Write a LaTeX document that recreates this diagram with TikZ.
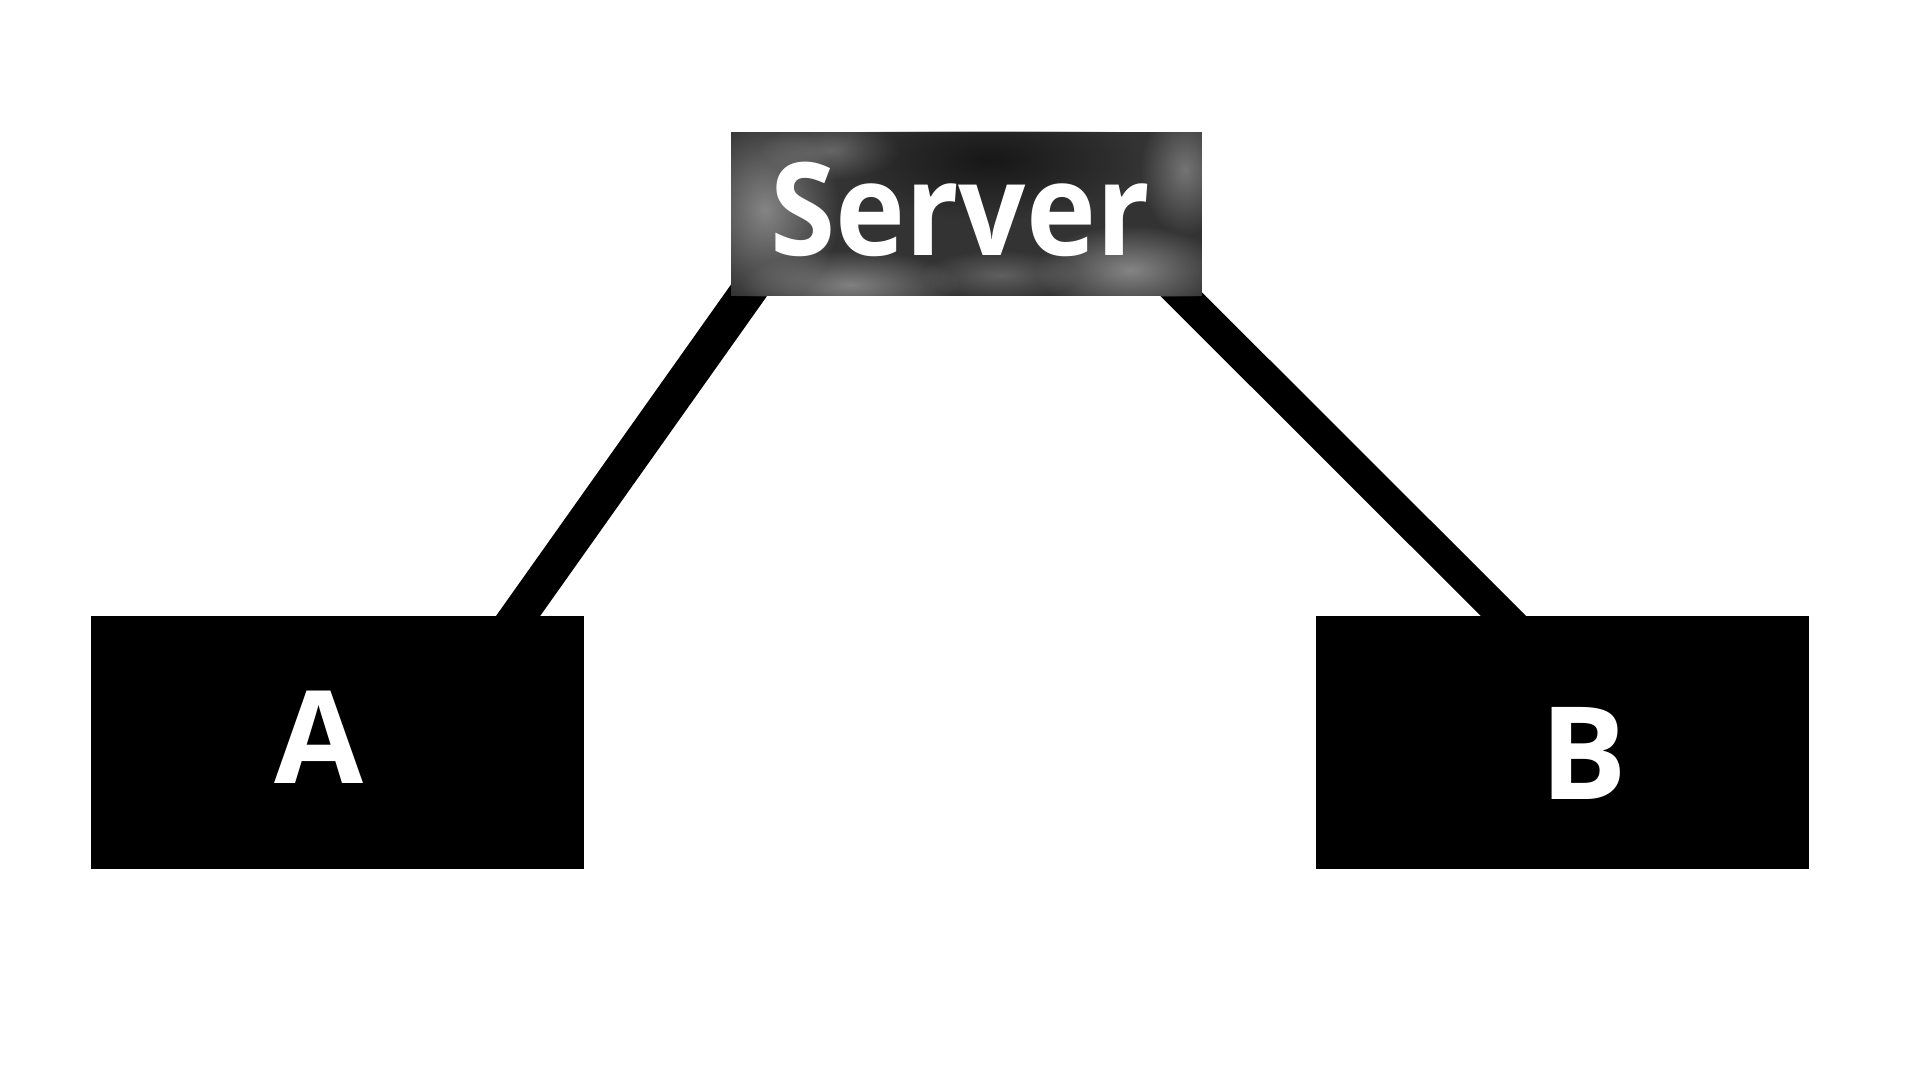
\documentclass[tikz,border=0pt]{standalone}
\usepackage{fontspec}
\usepackage{graphicx}
\setmainfont{Open Sans}
\usetikzlibrary{fadings,backgrounds}
\tikzfading[name=fuzzycirc, inner color=transparent!0, outer color=transparent!100]
\tikzset{
  box/.style={fill=black, draw=none, inner sep=0pt, minimum width=493pt, minimum height=253pt},
  lbl/.style={text=white, inner sep=0pt, font=\fontsize{129}{140}\selectfont\bfseries},
  conn/.style={draw=black, line width=35pt, shorten <=-30pt, shorten >=-30pt},
  cloud/.style={fill=white, path fading=fuzzycirc}
}
\begin{document}
\begin{tikzpicture}[x=1pt, y=-1pt]
\useasboundingbox (0,0) rectangle (1920,1080);
% Server box with cloudy texture
\node[inner sep=0pt, minimum width=471pt, minimum height=164pt, fill=black!80] (S) at (966.5,214) {};
\begin{scope}
  \clip (S.north west) rectangle (S.south east);
  \fill[cloud, opacity=0.40] (765,210) ellipse (75 and 95);
  \fill[cloud, opacity=0.25] (830,150) ellipse (70 and 30);
  \fill[cloud, opacity=0.38] (850,285) ellipse (110 and 35);
  \fill[cloud, opacity=0.40] (1130,270) ellipse (95 and 45);
  \fill[cloud, opacity=0.32] (1185,170) ellipse (45 and 65);
  \fill[cloud, opacity=0.22] (1000,275) ellipse (80 and 25);
  \fill[black, opacity=0.55, path fading=fuzzycirc] (990,160) ellipse (150 and 60);
\end{scope}
\node[lbl] at ([xshift=-6.5pt,yshift=5pt]S.center) {\scalebox{0.917}[1]{Server}};
% client boxes
\node[box] (A) at (337.5,742.5) {};
\node[lbl] at ([xshift=-18.5pt,yshift=5pt]A.center) {A};
\node[box] (B) at (1562,742.5) {};
\node[lbl] at ([xshift=21.5pt,yshift=-10.5pt]B.center) {B};
% connectors behind boxes
\begin{scope}[on background layer]
  \draw[conn, line width=36pt] ([xshift=14pt]S.south west) -- ([xshift=-66pt]A.north east);
  \draw[conn, line width=32pt] ([xshift=-19pt]S.south east) -- ([xshift=188pt]B.north west);
\end{scope}
\end{tikzpicture}
\end{document}
